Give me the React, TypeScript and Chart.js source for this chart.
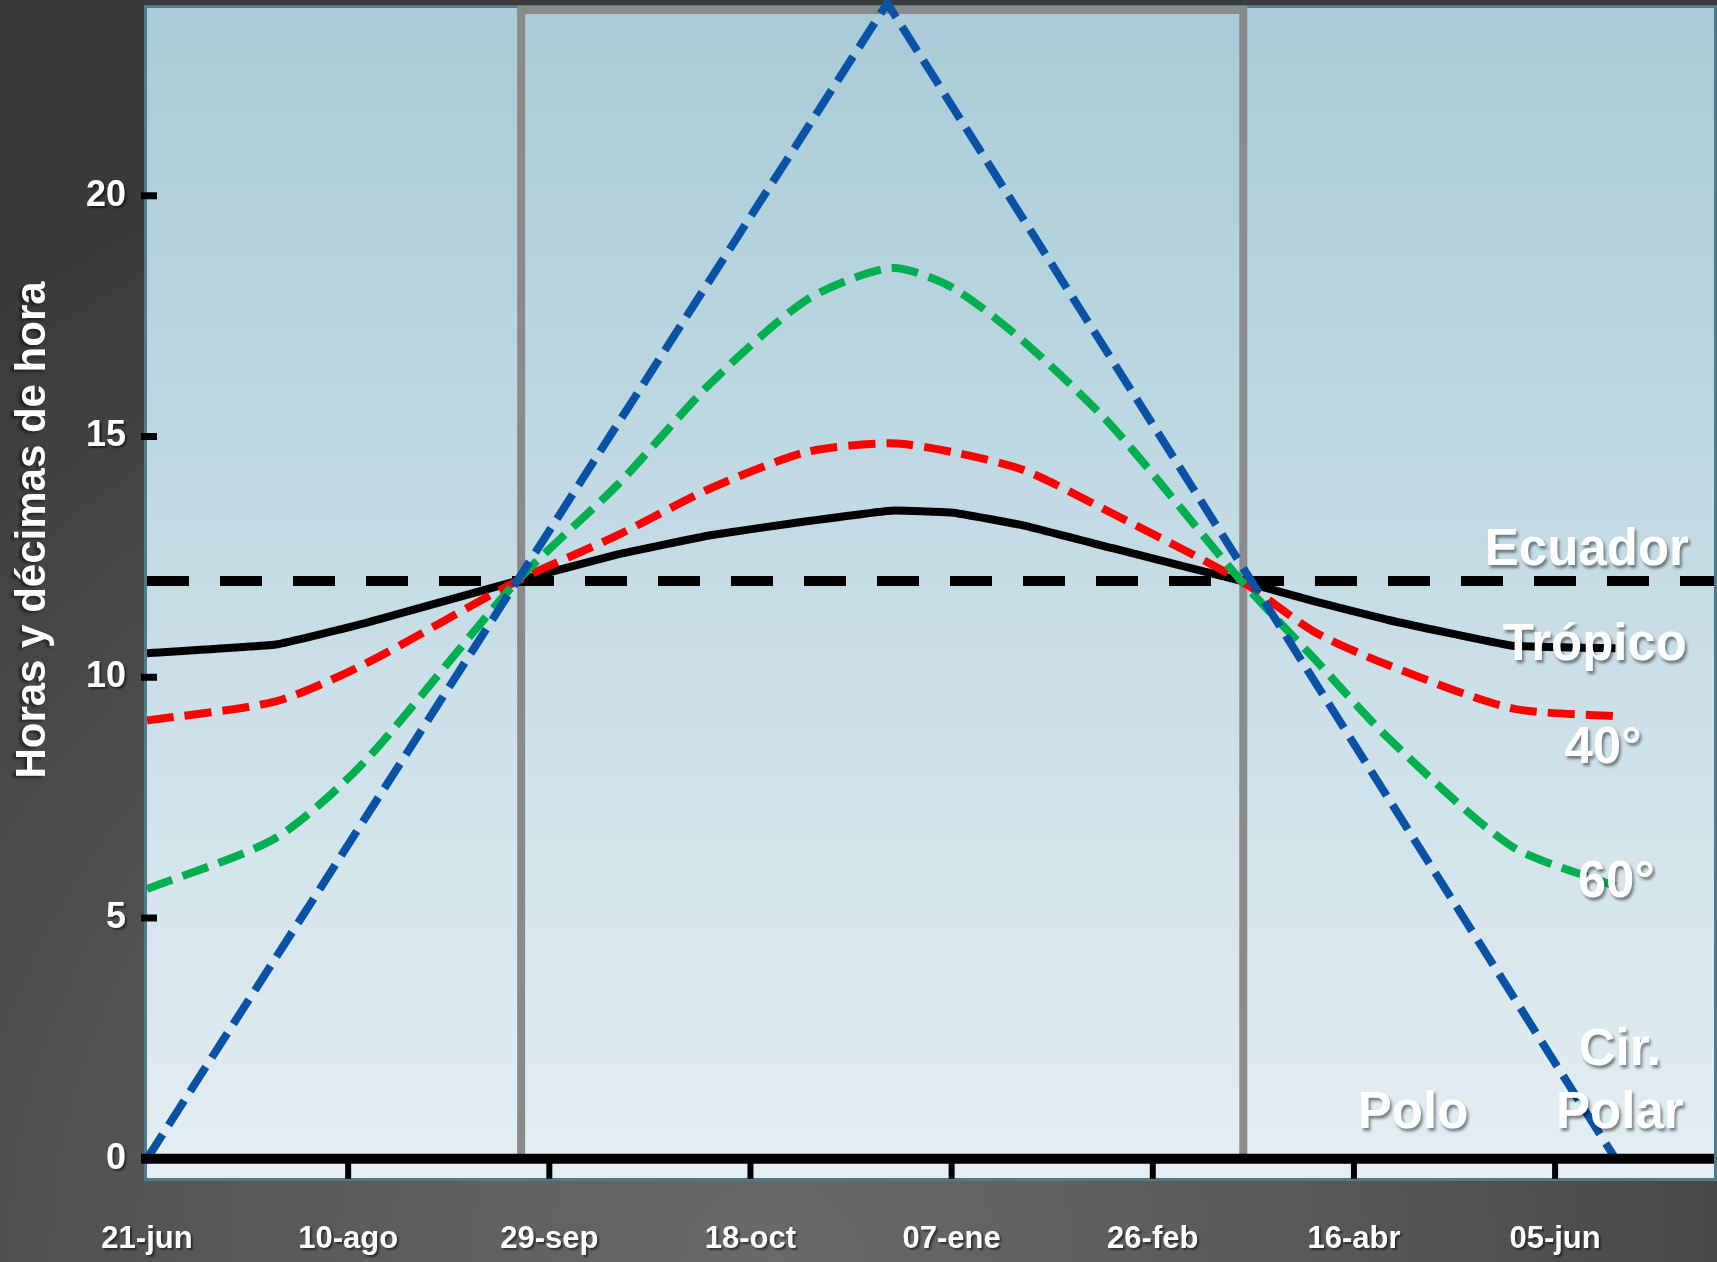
import React, { useEffect, useRef } from 'react';
import { Chart, registerables } from 'chart.js';

Chart.register(...registerables);

// ---- Axis ticks ----
const xTickDays = [0, 50, 100, 150, 200, 250, 300, 350];
const xTickLabels = ['21-jun', '10-ago', '29-sep', '18-oct', '07-ene', '26-feb', '16-abr', '05-jun'];
const yTickValues = [0, 5, 10, 15, 20];

// ---- Series (days since 21-jun, hours of daylight) ----
const sampleDays = [0, 32, 54, 92, 117, 140, 164, 185, 200, 218, 240, 272, 290, 308, 339, 365];
const tropicoHours = [10.5, 10.68, 11.12, 12.0, 12.55, 12.95, 13.24, 13.46, 13.42, 13.15, 12.68, 12.0, 11.58, 11.2, 10.66, 10.6];
const lat40Hours = [9.1, 9.5, 10.27, 12.0, 12.95, 13.92, 14.68, 14.86, 14.68, 14.3, 13.4, 12.0, 10.95, 10.27, 9.36, 9.19];
const lat60Hours = [5.6, 6.66, 8.24, 12.0, 14.0, 16.1, 17.84, 18.5, 18.1, 16.97, 15.2, 12.0, 10.4, 8.78, 6.5, 5.66];
const poloDays = [0, 184, 365];
const poloHours = [0, 24, 0];
const ecuadorDays = [0, 389.5];
const ecuadorHours = [12, 12];
const boxDays = [93, 93, 272.5, 272.5];
const boxHours = [0, 23.86, 23.86, 0];

// ---- Series labels (text, anchor day, anchor hours) ----
const labelTexts = ['Ecuador', 'Trópico', '40°', '60°', 'Cir.', 'Polar', 'Polo'];
const labelDays = [357.9, 359.9, 361.9, 365.2, 366.1, 366.1, 314.7];
const labelHours = [12.33, 10.36, 8.22, 5.43, 1.95, 0.64, 0.64];

const yTitle = 'Horas y décimas de hora';

const FONT = "'Liberation Sans', Arial, Helvetica, sans-serif";

const pts = (xs: number[], ys: number[]) => xs.map((x, i) => ({ x, y: ys[i] }));

export default function App() {
  const ref = useRef<HTMLCanvasElement>(null);

  useEffect(() => {
    const canvas = ref.current;
    if (!canvas) return;

    const decor = {
      id: 'decor',
      beforeDraw(chart: any) {
        const { ctx, chartArea: a } = chart;
        ctx.save();
        const g = ctx.createLinearGradient(0, a.top, 0, a.bottom);
        g.addColorStop(0, '#a8cbd7');
        g.addColorStop(1, '#e4eef3');
        ctx.fillStyle = g;
        ctx.fillRect(a.left, a.top, a.right - a.left, a.bottom - a.top);
        ctx.strokeStyle = '#4f7b88';
        ctx.lineWidth = 3;
        ctx.strokeRect(a.left - 1.5, a.top - 1.5, a.right - a.left + 3, a.bottom - a.top + 3);
        ctx.restore();
        // soft shadow for the tick labels drawn next by the scales
        ctx.shadowColor = 'rgba(0,0,0,0.5)';
        ctx.shadowOffsetX = 2;
        ctx.shadowOffsetY = 2;
        ctx.shadowBlur = 2;
      },
      beforeDatasetsDraw(chart: any) {
        const { ctx } = chart;
        ctx.shadowColor = 'rgba(0,0,0,0)';
        ctx.shadowOffsetX = 0;
        ctx.shadowOffsetY = 0;
        ctx.shadowBlur = 0;
      },
      afterDatasetsDraw(chart: any) {
        const { ctx, chartArea: a } = chart;
        const xs = chart.scales.x;
        const ys = chart.scales.y;
        ctx.save();
        ctx.strokeStyle = '#000';
        ctx.lineCap = 'butt';
        const y0 = ys.getPixelForValue(0);
        // x axis line at 0 h
        ctx.lineWidth = 10;
        ctx.beginPath();
        ctx.moveTo(a.left - 6, y0);
        ctx.lineTo(a.right, y0);
        ctx.stroke();
        ctx.lineWidth = 6;
        xTickDays.forEach((d) => {
          if (d === 0) return;
          const px = xs.getPixelForValue(d);
          ctx.beginPath();
          ctx.moveTo(px, y0);
          ctx.lineTo(px, y0 + 20);
          ctx.stroke();
        });
        ctx.lineWidth = 7;
        yTickValues.forEach((v) => {
          const py = ys.getPixelForValue(v);
          ctx.beginPath();
          ctx.moveTo(a.left - 6, py);
          ctx.lineTo(a.left + 10, py);
          ctx.stroke();
        });
        ctx.restore();
      },
      afterDraw(chart: any) {
        const { ctx, chartArea: a } = chart;
        const xs = chart.scales.x;
        const ys = chart.scales.y;
        ctx.save();
        ctx.fillStyle = '#ffffff';
        ctx.shadowColor = 'rgba(0,0,0,0.45)';
        ctx.shadowOffsetX = 2;
        ctx.shadowOffsetY = 3;
        ctx.shadowBlur = 3;
        ctx.font = `bold 51px ${FONT}`;
        ctx.textAlign = 'center';
        ctx.textBaseline = 'alphabetic';
        labelTexts.forEach((t, i) => {
          ctx.fillText(t, xs.getPixelForValue(labelDays[i]), ys.getPixelForValue(labelHours[i]));
        });
        // y axis title
        ctx.font = `bold 42px ${FONT}`;
        ctx.textBaseline = 'middle';
        ctx.translate(a.left - 114, 530);
        ctx.rotate(-Math.PI / 2);
        ctx.shadowOffsetX = -3;
        ctx.shadowOffsetY = 2;
        ctx.fillText(yTitle, 0, 0);
        ctx.restore();
      },
    };

    const chart = new Chart(canvas, {
      type: 'line',
      data: {
        datasets: [
          {
            label: 'Polo',
            data: pts(poloDays, poloHours),
            borderColor: '#0a52a6',
            borderWidth: 8,
            borderDash: [29, 11],
            pointRadius: 0,
            tension: 0,
            clip: false as any,
          },
          {
            label: '60°',
            data: pts(sampleDays, lat60Hours),
            borderColor: '#00b050',
            borderWidth: 8,
            borderDash: [27, 11],
            pointRadius: 0,
            tension: 0.25,
          },
          {
            label: '40°',
            data: pts(sampleDays, lat40Hours),
            borderColor: '#ff0000',
            borderWidth: 8,
            borderDash: [27, 11],
            pointRadius: 0,
            tension: 0.25,
          },
          {
            label: 'Trópico',
            data: pts(sampleDays, tropicoHours),
            borderColor: '#000000',
            borderWidth: 8,
            pointRadius: 0,
            tension: 0.1,
          },
          {
            label: 'Ecuador',
            data: pts(ecuadorDays, ecuadorHours),
            borderColor: '#000000',
            borderWidth: 10,
            borderDash: [42, 31],
            pointRadius: 0,
            tension: 0,
          },
          {
            label: 'Verano austral',
            data: pts(boxDays, boxHours),
            borderColor: '#8a8a8a',
            borderWidth: 8,
            borderJoinStyle: 'miter',
            pointRadius: 0,
            tension: 0,
            clip: false as any,
          },
        ],
      },
      options: {
        responsive: false,
        animation: false,
        devicePixelRatio: 1,
        layout: { padding: { top: 8, right: 3, left: 0, bottom: 0 } },
        plugins: { legend: { display: false }, tooltip: { enabled: false } },
        scales: {
          x: {
            type: 'linear',
            min: 0,
            max: 389.5,
            afterBuildTicks: (s: any) => {
              s.ticks = xTickDays.map((v) => ({ value: v }));
            },
            afterFit: (s: any) => {
              s.height = 84;
              s.paddingLeft = 0;
              s.paddingRight = 0;
              s.paddingTop = 0;
              s.paddingBottom = 0;
            },
            grid: { display: false, drawTicks: false },
            border: { display: false },
            ticks: {
              autoSkip: false,
              maxRotation: 0,
              padding: 43,
              color: '#ffffff',
              font: { family: FONT, size: 31, weight: 'bold' },
              callback: (_v: any, i: number) => xTickLabels[i],
            },
          },
          y: {
            type: 'linear',
            min: -0.4,
            max: 23.9,
            afterBuildTicks: (s: any) => {
              s.ticks = yTickValues.map((v) => ({ value: v }));
            },
            afterFit: (s: any) => {
              s.width = 147;
              s.paddingLeft = 0;
              s.paddingRight = 0;
              s.paddingTop = 0;
              s.paddingBottom = 0;
            },
            grid: { display: false, drawTicks: false },
            border: { display: false },
            ticks: {
              padding: 21,
              color: '#ffffff',
              font: { family: FONT, size: 36, weight: 'bold' },
              callback: (v: any) => String(v),
            },
          },
        },
      },
      plugins: [decor],
    } as any);

    return () => chart.destroy();
  }, []);

  return (
    <div
      style={{
        position: 'fixed',
        left: 0,
        top: 0,
        width: 1717,
        height: 1262,
        background:
          'radial-gradient(ellipse 75% 95% at 45% 100%, #6a6a6a 0%, #575757 45%, #3a3a3a 100%)',
      }}
    >
      <canvas ref={ref} width={1717} height={1262} style={{ width: 1717, height: 1262, display: 'block' }} />
    </div>
  );
}
